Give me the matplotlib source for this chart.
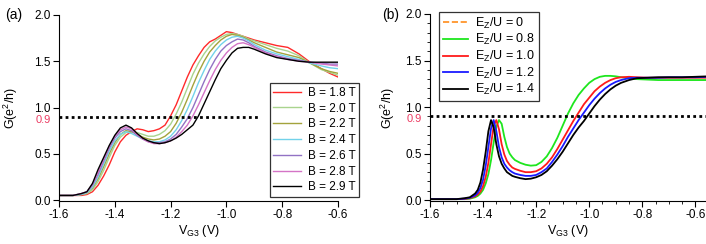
import matplotlib
matplotlib.use("Agg")
import matplotlib.pyplot as plt
import matplotlib.transforms as mtransforms
from matplotlib.ticker import MultipleLocator

plt.rcParams['font.family'] = ['Liberation Sans', 'DejaVu Sans']
plt.rcParams['mathtext.fontset'] = 'custom'
plt.rcParams['mathtext.rm'] = 'Liberation Sans'
plt.rcParams['mathtext.it'] = 'Liberation Sans:italic'

# ---- panel (a): measured conductance vs gate voltage ----
vg_a = [-1.60, -1.55, -1.52, -1.50, -1.48, -1.46, -1.44, -1.42, -1.40, -1.38,
        -1.36, -1.34, -1.32, -1.30, -1.28, -1.26, -1.24, -1.22, -1.20, -1.18,
        -1.16, -1.14, -1.12, -1.10, -1.08, -1.06, -1.04, -1.02, -1.00, -0.98,
        -0.96, -0.94, -0.92, -0.90, -0.86, -0.82, -0.78, -0.74, -0.70, -0.66,
        -0.63, -0.60]
g_b18 = [0.05, 0.05, 0.05, 0.06, 0.09, 0.16, 0.26, 0.38, 0.52, 0.63,
         0.70, 0.74, 0.77, 0.76, 0.74, 0.75, 0.77, 0.81, 0.91, 1.03,
         1.18, 1.33, 1.46, 1.56, 1.65, 1.71, 1.74, 1.78, 1.82, 1.81,
         1.79, 1.77, 1.75, 1.73, 1.70, 1.67, 1.65, 1.58, 1.49, 1.42,
         1.37, 1.33]
g_b20 = [0.05, 0.05, 0.06, 0.07, 0.11, 0.20, 0.32, 0.46, 0.59, 0.68,
         0.73, 0.74, 0.73, 0.71, 0.69, 0.69, 0.71, 0.75, 0.82, 0.93,
         1.06, 1.21, 1.36, 1.48, 1.58, 1.66, 1.72, 1.76, 1.79, 1.80,
         1.79, 1.77, 1.74, 1.72, 1.68, 1.64, 1.61, 1.56, 1.48, 1.41,
         1.38, 1.35]
g_b22 = [0.05, 0.05, 0.06, 0.08, 0.13, 0.23, 0.36, 0.50, 0.62, 0.71,
         0.75, 0.74, 0.71, 0.68, 0.66, 0.65, 0.66, 0.69, 0.74, 0.83,
         0.95, 1.09, 1.24, 1.38, 1.50, 1.60, 1.67, 1.73, 1.77, 1.79,
         1.78, 1.76, 1.73, 1.70, 1.65, 1.60, 1.57, 1.54, 1.48, 1.42,
         1.39, 1.37]
g_b24 = [0.05, 0.05, 0.06, 0.08, 0.14, 0.25, 0.39, 0.53, 0.64, 0.71,
         0.74, 0.72, 0.69, 0.66, 0.64, 0.63, 0.63, 0.65, 0.69, 0.76,
         0.86, 0.98, 1.12, 1.27, 1.40, 1.52, 1.61, 1.68, 1.73, 1.76,
         1.77, 1.75, 1.72, 1.68, 1.62, 1.58, 1.55, 1.52, 1.48, 1.45,
         1.43, 1.42]
g_b26 = [0.05, 0.05, 0.07, 0.09, 0.16, 0.28, 0.42, 0.56, 0.67, 0.74,
         0.77, 0.75, 0.70, 0.66, 0.63, 0.62, 0.62, 0.63, 0.66, 0.71,
         0.79, 0.88, 1.00, 1.14, 1.28, 1.41, 1.52, 1.61, 1.67, 1.71,
         1.74, 1.73, 1.70, 1.66, 1.60, 1.56, 1.53, 1.51, 1.49, 1.48,
         1.47, 1.47]
g_b28 = [0.05, 0.05, 0.07, 0.09, 0.17, 0.30, 0.44, 0.58, 0.69, 0.76,
         0.79, 0.77, 0.71, 0.66, 0.63, 0.61, 0.61, 0.62, 0.64, 0.68,
         0.74, 0.81, 0.91, 1.03, 1.16, 1.29, 1.41, 1.51, 1.59, 1.65,
         1.69, 1.70, 1.68, 1.65, 1.59, 1.55, 1.52, 1.50, 1.49, 1.47,
         1.46, 1.45]
g_b29 = [0.05, 0.05, 0.07, 0.09, 0.18, 0.33, 0.46, 0.59, 0.70, 0.78,
         0.81, 0.78, 0.72, 0.67, 0.64, 0.62, 0.61, 0.62, 0.64, 0.67,
         0.71, 0.76, 0.81, 0.91, 1.04, 1.17, 1.30, 1.42, 1.51, 1.59,
         1.64, 1.65, 1.65, 1.63, 1.58, 1.54, 1.52, 1.50, 1.49, 1.49,
         1.49, 1.49]
labels_a = ['B = 1.8 T', 'B = 2.0 T', 'B = 2.2 T', 'B = 2.4 T',
            'B = 2.6 T', 'B = 2.8 T', 'B = 2.9 T']
colors_a = ['#ff2a2a', '#a9d48e', '#a3a33c', '#72d2ea', '#9272c4', '#d474c6', '#000000']

# ---- panel (b): calculated conductance ----
vg_b = [-1.60, -1.55, -1.50, -1.47, -1.45, -1.43, -1.42, -1.41, -1.40, -1.39,
        -1.38, -1.37, -1.36, -1.35, -1.34, -1.33, -1.32, -1.31, -1.30, -1.29,
        -1.28, -1.26, -1.24, -1.22, -1.20, -1.18, -1.16, -1.14, -1.12, -1.10,
        -1.08, -1.06, -1.04, -1.02, -1.00, -0.98, -0.96, -0.94, -0.92, -0.90,
        -0.88, -0.85, -0.82, -0.78, -0.74, -0.70, -0.65, -0.60, -0.55]
g_ez08 = [0.01, 0.01, 0.01, 0.01, 0.015, 0.03, 0.045, 0.07, 0.11, 0.18,
          0.28, 0.43, 0.62, 0.79, 0.86, 0.82, 0.68, 0.57, 0.50, 0.46,
          0.43, 0.40, 0.38, 0.37, 0.375, 0.41, 0.47, 0.56, 0.67, 0.80,
          0.93, 1.04, 1.13, 1.20, 1.26, 1.30, 1.325, 1.335, 1.335, 1.33,
          1.32, 1.31, 1.30, 1.295, 1.29, 1.29, 1.29, 1.29, 1.29]
g_ez10 = [0.01, 0.01, 0.01, 0.012, 0.02, 0.04, 0.06, 0.09, 0.15, 0.25,
          0.40, 0.60, 0.80, 0.86, 0.76, 0.60, 0.49, 0.42, 0.38, 0.35,
          0.335, 0.315, 0.30, 0.30, 0.31, 0.34, 0.39, 0.46, 0.55, 0.65,
          0.75, 0.85, 0.94, 1.03, 1.10, 1.17, 1.22, 1.26, 1.29, 1.31,
          1.32, 1.325, 1.32, 1.315, 1.315, 1.315, 1.315, 1.315, 1.315]
g_ez12 = [0.01, 0.01, 0.01, 0.015, 0.025, 0.05, 0.08, 0.13, 0.22, 0.37,
          0.57, 0.77, 0.86, 0.74, 0.57, 0.46, 0.39, 0.35, 0.32, 0.30,
          0.285, 0.27, 0.26, 0.26, 0.27, 0.30, 0.34, 0.41, 0.49, 0.58,
          0.68, 0.77, 0.86, 0.94, 1.02, 1.09, 1.15, 1.20, 1.24, 1.27,
          1.29, 1.31, 1.315, 1.315, 1.315, 1.32, 1.32, 1.32, 1.325]
g_ez14 = [0.01, 0.01, 0.01, 0.02, 0.03, 0.07, 0.11, 0.19, 0.33, 0.52,
          0.74, 0.86, 0.78, 0.60, 0.47, 0.39, 0.34, 0.30, 0.28, 0.26,
          0.25, 0.235, 0.225, 0.23, 0.245, 0.27, 0.31, 0.37, 0.44, 0.52,
          0.61, 0.70, 0.78, 0.85, 0.93, 1.01, 1.08, 1.14, 1.19, 1.23,
          1.26, 1.29, 1.31, 1.315, 1.32, 1.32, 1.32, 1.325, 1.33]
labels_b = ['E$_\\mathregular{Z}$/U = 0', 'E$_\\mathregular{Z}$/U = 0.8',
            'E$_\\mathregular{Z}$/U = 1.0', 'E$_\\mathregular{Z}$/U = 1.2',
            'E$_\\mathregular{Z}$/U = 1.4']
colors_b = ['#ff8c1a', '#1ee61e', '#ff1a1a', '#1a1aff', '#000000']

threshold = 0.9
red_label = '#ec3b62'

fig = plt.figure(figsize=(7.06, 2.44), dpi=100)
ax1 = fig.add_axes([59 / 706, 43 / 244, 279 / 706, 186 / 244])
ax2 = fig.add_axes([430 / 706, 43 / 244, 276 / 706, 187 / 244])

curves_a = [g_b18, g_b20, g_b22, g_b24, g_b26, g_b28, g_b29]
for g, lab, c in zip(curves_a, labels_a, colors_a):
    ax1.plot(vg_a, g, color=c, lw=1.0, label=lab)

ax2.plot([], [], color=colors_b[0], lw=1.2, ls='--', label=labels_b[0])
for g, lab, c in zip([g_ez08, g_ez10, g_ez12, g_ez14], labels_b[1:], colors_b[1:]):
    ax2.plot(vg_b, g, color=c, lw=1.3, label=lab)

ax1.axhline(threshold, xmin=0, xmax=0.72, color='black', ls=(0, (1, 1.2)), lw=2)
ax2.axhline(threshold, xmin=0, xmax=1, color='black', ls=(0, (1, 1.2)), lw=2)

ax1.set_xlim(-1.6, -0.6)
ax2.set_xlim(-1.6, -0.56)
for ax in (ax1, ax2):
    ax.set_ylim(-0.01, 2.0)
    ax.spines['top'].set_visible(False)
    ax.spines['right'].set_visible(False)
    ax.xaxis.set_major_locator(MultipleLocator(0.2))
    ax.yaxis.set_major_locator(MultipleLocator(0.5))
    ax.xaxis.set_major_formatter(plt.FuncFormatter(lambda v, p: f'{v:.1f}'))
    ax.yaxis.set_major_formatter(plt.FuncFormatter(lambda v, p: f'{v:.1f}'))
    ax.tick_params(direction='out', length=4, width=0.8, labelsize=8.5, pad=2)
    ax.set_xlabel('V$_\\mathregular{G3}$ (V)', fontsize=9, labelpad=1)
    ax.set_ylabel('G(e$^\\mathregular{2}$/h)', fontsize=9)
    trans = mtransforms.blended_transform_factory(ax.transAxes, ax.transData)
    off = mtransforms.ScaledTranslation(-6 / 72, -2 / 72, fig.dpi_scale_trans)
    ax.text(0, threshold, '0.9', color=red_label, fontsize=8,
            ha='right', va='center', transform=trans + off)

ax1.yaxis.set_label_coords(-0.14, 0.5)
ax2.yaxis.set_label_coords(-0.12, 0.5)

ax2.xaxis.set_minor_locator(MultipleLocator(0.05))
ax2.yaxis.set_minor_locator(MultipleLocator(0.1))
ax2.tick_params(which='minor', direction='out', length=2, width=0.6)

leg1 = ax1.legend(loc='lower right', bbox_to_anchor=(359 / 706, 47 / 244),
                  bbox_transform=fig.transFigure, fontsize=8.5, frameon=True,
                  fancybox=False, edgecolor='black', handlelength=2.3,
                  labelspacing=0.32, borderpad=0.3, handletextpad=0.6,
                  borderaxespad=0)
leg1.get_frame().set_linewidth(0.9)
leg2 = ax2.legend(loc='upper left', bbox_to_anchor=(439 / 706, 232 / 244),
                  bbox_transform=fig.transFigure, fontsize=9, frameon=True,
                  fancybox=False, edgecolor='black', handlelength=2.0,
                  labelspacing=0.12, borderpad=0.3, handletextpad=0.6,
                  borderaxespad=0)
leg2.get_frame().set_linewidth(0.9)

fig.text(5 / 706, 1 - 15 / 244, '(a)', fontsize=10, va='center', ha='left')
fig.text(382 / 706, 1 - 15 / 244, '(b)', fontsize=10, va='center', ha='left')

fig.savefig('out.png', dpi=100)
